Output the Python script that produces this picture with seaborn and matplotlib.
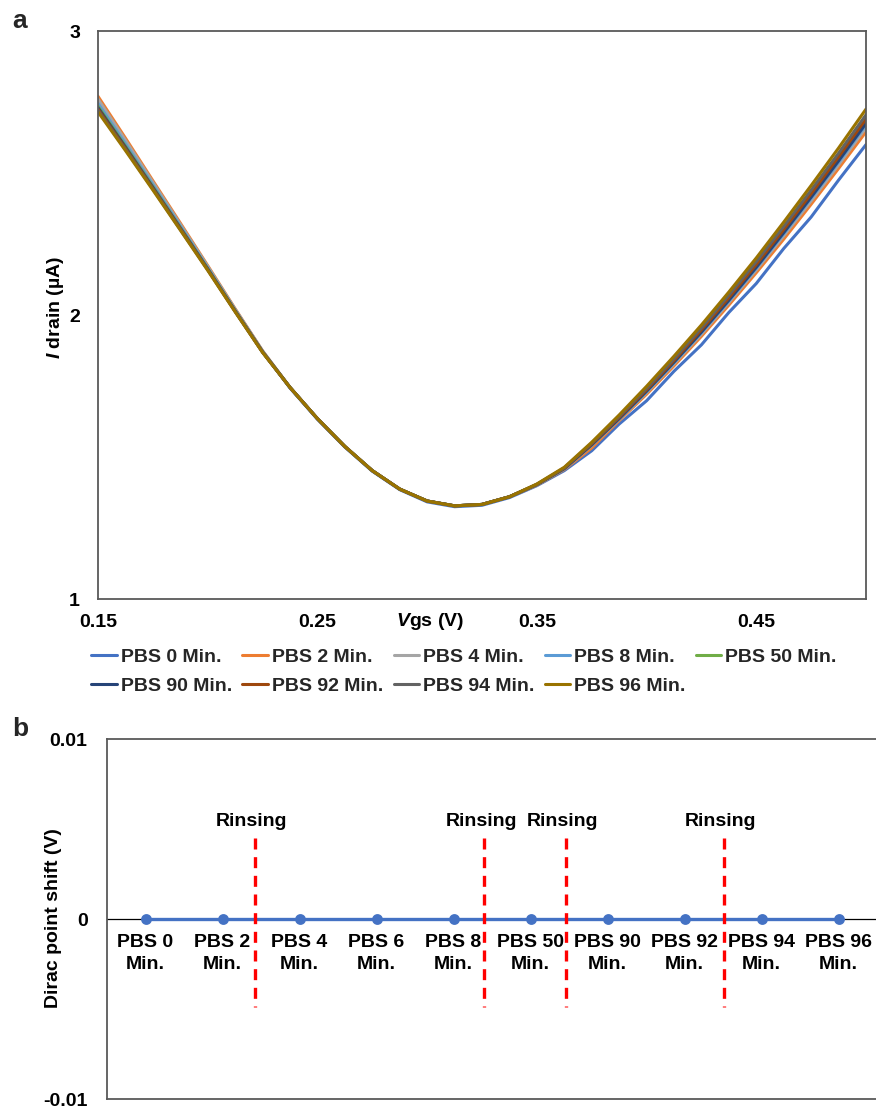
import matplotlib
matplotlib.use("Agg")
import matplotlib.pyplot as plt
import numpy as np
import pandas as pd
import seaborn as sns

# ---------------- data: panel a (transfer curves) ----------------
vgs = [0.1500, 0.1625, 0.1750, 0.1875, 0.2000, 0.2125, 0.2250, 0.2375, 0.2500,
       0.2625, 0.2750, 0.2875, 0.3000, 0.3125, 0.3250, 0.3375, 0.3500, 0.3625,
       0.3750, 0.3875, 0.4000, 0.4125, 0.4250, 0.4375, 0.4500, 0.4625, 0.4750,
       0.4875, 0.5000]

series_names = ["PBS 0 Min.", "PBS 2 Min.", "PBS 4 Min.", "PBS 8 Min.", "PBS 50 Min.",
                "PBS 90 Min.", "PBS 92 Min.", "PBS 94 Min.", "PBS 96 Min."]

pbs0 = [2.750, 2.607, 2.461, 2.315, 2.168, 2.018, 1.872,
        1.743, 1.633, 1.535, 1.450, 1.385, 1.342, 1.325, 1.330, 1.357,
        1.399, 1.452, 1.522, 1.616, 1.698, 1.802, 1.895, 2.009, 2.111, 2.234, 2.345, 2.475, 2.600]
pbs2 = [2.770, 2.623, 2.473, 2.324, 2.174, 2.022, 1.874,
        1.745, 1.635, 1.537, 1.452, 1.387, 1.345, 1.328, 1.333, 1.360,
        1.401, 1.456, 1.532, 1.628, 1.721, 1.821, 1.925, 2.035, 2.149, 2.267, 2.390, 2.516, 2.645]
pbs4 = [2.760, 2.615, 2.467, 2.319, 2.171, 2.020, 1.873,
        1.745, 1.635, 1.537, 1.452, 1.387, 1.345, 1.328, 1.333, 1.360,
        1.402, 1.458, 1.541, 1.632, 1.727, 1.828, 1.933, 2.044, 2.159, 2.279, 2.402, 2.529, 2.660]
pbs8 = [2.745, 2.603, 2.458, 2.313, 2.166, 2.017, 1.871,
        1.745, 1.635, 1.537, 1.452, 1.387, 1.345, 1.328, 1.333, 1.360,
        1.402, 1.459, 1.542, 1.634, 1.730, 1.832, 1.938, 2.049, 2.165, 2.286, 2.411, 2.538, 2.670]
pbs50 = [2.735, 2.595, 2.452, 2.308, 2.163, 2.015, 1.870,
         1.745, 1.635, 1.537, 1.452, 1.387, 1.345, 1.328, 1.333, 1.360,
         1.403, 1.460, 1.544, 1.637, 1.733, 1.836, 1.943, 2.055, 2.172, 2.293, 2.419, 2.547, 2.680]
pbs90 = [2.730, 2.591, 2.449, 2.306, 2.162, 2.014, 1.870,
         1.745, 1.635, 1.537, 1.452, 1.387, 1.345, 1.328, 1.333, 1.360,
         1.403, 1.459, 1.543, 1.635, 1.732, 1.834, 1.940, 2.052, 2.168, 2.290, 2.415, 2.543, 2.675]
pbs92 = [2.725, 2.587, 2.446, 2.304, 2.160, 2.013, 1.869,
         1.745, 1.635, 1.537, 1.452, 1.387, 1.345, 1.328, 1.333, 1.360,
         1.403, 1.461, 1.546, 1.639, 1.737, 1.840, 1.948, 2.061, 2.178, 2.301, 2.427, 2.557, 2.690]
pbs94 = [2.720, 2.583, 2.443, 2.301, 2.159, 2.012, 1.869,
         1.745, 1.635, 1.537, 1.452, 1.387, 1.345, 1.328, 1.333, 1.360,
         1.404, 1.462, 1.549, 1.643, 1.742, 1.846, 1.955, 2.070, 2.188, 2.312, 2.440, 2.570, 2.705]
pbs96 = [2.715, 2.579, 2.440, 2.299, 2.157, 2.011, 1.868,
         1.745, 1.635, 1.537, 1.452, 1.387, 1.345, 1.328, 1.333, 1.360,
         1.405, 1.464, 1.552, 1.648, 1.749, 1.855, 1.965, 2.081, 2.201, 2.327, 2.456, 2.588, 2.725]

curve_colors = ["#4472C4", "#ED7D31", "#A5A5A5", "#5B9BD5", "#70AD47",
                "#264478", "#9E480E", "#636363", "#997300"]

x_ticks_a = [0.15, 0.25, 0.35, 0.45]
x_ticklabels_a = ["0.15", "0.25", "0.35", "0.45"]
y_ticks_a = [1, 2, 3]

# ---------------- data: panel b (Dirac point shift) ----------------
shift_categories = ["PBS 0\nMin.", "PBS 2\nMin.", "PBS 4\nMin.", "PBS 6\nMin.", "PBS 8\nMin.",
                    "PBS 50\nMin.", "PBS 90\nMin.", "PBS 92\nMin.", "PBS 94\nMin.", "PBS 96\nMin."]
shift_values = [0, 0, 0, 0, 0, 0, 0, 0, 0, 0]
rinsing_positions = [1.42, 4.40, 5.46, 7.51]
rinsing_label = "Rinsing"
y_ticks_b = [-0.01, 0, 0.01]
y_ticklabels_b = ["-0.01", "0", "0.01"]

# ---------------- style ----------------
sns.set_theme(style="white")
plt.rcParams["font.family"] = ["Liberation Sans", "DejaVu Sans"]
plt.rcParams["font.weight"] = "bold"
plt.rcParams["mathtext.fontset"] = "custom"
plt.rcParams["mathtext.it"] = "Liberation Sans:italic:bold"
plt.rcParams["mathtext.rm"] = "Liberation Sans:bold"
plt.rcParams["mathtext.bf"] = "Liberation Sans:bold"

FS = 14
SPINE = "#595959"

W, H = 876, 1109
fig = plt.figure(figsize=(W / 100, H / 100), dpi=100)
fig.patch.set_facecolor("white")

def fig_rect(left, top, right, bottom):
    return [left / W, 1 - bottom / H, (right - left) / W, (bottom - top) / H]

# ---------------- panel a ----------------
ax1 = fig.add_axes(fig_rect(98, 31, 866, 599))
long = pd.concat(
    [pd.DataFrame({"Vgs": vgs, "I": vals, "series": name})
     for name, vals in zip(series_names,
                           [pbs0, pbs2, pbs4, pbs8, pbs50, pbs90, pbs92, pbs94, pbs96])],
    ignore_index=True)
sns.lineplot(data=long, x="Vgs", y="I", hue="series", hue_order=series_names,
             palette=curve_colors, sort=False, estimator=None, lw=2.2,
             solid_joinstyle="round", solid_capstyle="round", ax=ax1)
ax1.set_xlim(0.15, 0.50)
ax1.set_ylim(1, 3)
ax1.set_xticks(x_ticks_a, x_ticklabels_a)
ax1.set_yticks(y_ticks_a, [str(v) for v in y_ticks_a])
ax1.tick_params(axis="x", length=0, pad=11, labelsize=FS, colors="black")
ax1.tick_params(axis="y", length=0, pad=13, labelsize=FS, colors="black")
for lab in ax1.get_xticklabels() + ax1.get_yticklabels():
    lab.set_fontweight("bold")
for sp in ax1.spines.values():
    sp.set_visible(True)
    sp.set_color(SPINE)
    sp.set_linewidth(1.3)
ax1.set_xlabel("$V$gs (V)", fontsize=FS, fontweight="bold", color="black")
ax1.xaxis.set_label_coords((430 - 98) / 768, (599 - 622) / 568)
ax1.xaxis.label.set_va("center")
ax1.set_ylabel("$I$ drain (µA)", fontsize=FS, fontweight="bold", color="black")
ax1.yaxis.set_label_coords((56 - 98) / 768, (599 - 307) / 568)
ax1.yaxis.label.set_va("center")

handles, labels = ax1.get_legend_handles_labels()
ax1.get_legend().remove()
order = [0, 5, 1, 6, 2, 7, 3, 8, 4]
fig.legend([handles[i] for i in order], [labels[i] for i in order],
           ncol=5, loc="center", bbox_to_anchor=(464 / W, 1 - 671.5 / H),
           frameon=False, handlelength=1.3, handletextpad=0.2,
           columnspacing=0.55, labelspacing=0.6, borderpad=0, borderaxespad=0,
           prop={"weight": "bold", "size": FS})

fig.text(20 / W, 1 - 21 / H, "a", fontsize=19, fontweight="bold", ha="center", va="center")

# ---------------- panel b ----------------
ax2 = fig.add_axes(fig_rect(107, 739, 877, 1099))
sns.pointplot(x=shift_categories, y=shift_values, color="#4472C4", markers="o",
              markersize=6, linewidth=2.4, errorbar=None, ax=ax2, zorder=4)
ax2.set_xlim(-0.5, 9.5)
ax2.set_ylim(-0.01, 0.01)
ax2.set_yticks(y_ticks_b, y_ticklabels_b)
ax2.tick_params(axis="y", length=0, pad=14, labelsize=FS, colors="black")
for lab in ax2.get_yticklabels():
    lab.set_fontweight("bold")
ax2.set_xticks([])
ax2.set_xlabel("")
for sp in ax2.spines.values():
    sp.set_visible(True)
    sp.set_color(SPINE)
    sp.set_linewidth(1.3)

sec = ax2.secondary_xaxis(0.5)
sec.set_alignment("bottom")
sec.set_xticks(range(len(shift_categories)), shift_categories)
sec.tick_params(axis="x", length=0, pad=11, labelsize=FS, colors="black")
for lab in sec.get_xticklabels():
    lab.set_fontweight("bold")
    lab.set_linespacing(1.4)
sec.spines["bottom"].set_color("black")
sec.spines["bottom"].set_linewidth(0.9)

for xpos in rinsing_positions:
    ax2.plot([xpos, xpos], [0.0045, -0.0049], color="#FF0000", lw=2.4,
             linestyle=(0, (3.3, 2.3)), zorder=5)
    ax2.text(xpos - 0.04, 0.00544, rinsing_label, ha="center", va="center",
             fontsize=FS, fontweight="bold", color="black")

ax2.set_ylabel("Dirac point shift (V)", fontsize=FS, fontweight="bold", color="black")
ax2.yaxis.set_label_coords((54 - 107) / 770, (1099 - 918) / 360)
ax2.yaxis.label.set_va("center")

fig.text(20 / W, 1 - 729 / H, "b", fontsize=19, fontweight="bold", ha="center", va="center")

fig.savefig("out.png", dpi=100, facecolor="white")
